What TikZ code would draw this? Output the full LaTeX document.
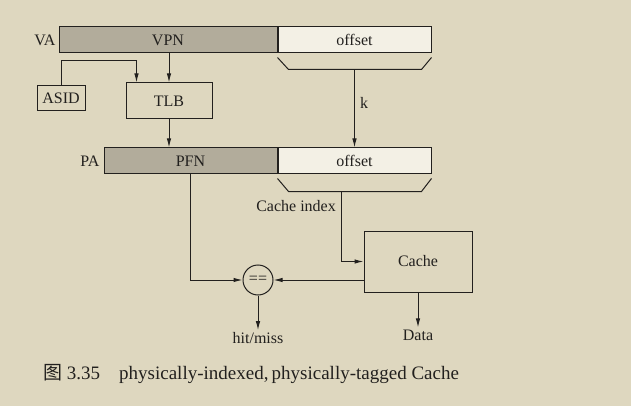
\documentclass[tikz,border=0pt]{standalone}
\usepackage{fontspec}
\setmainfont{Liberation Serif}
\newfontfamily\cjk{Noto Sans CJK SC}
\usepackage{xcolor}
\usepackage{tikz}
\usetikzlibrary{
    shapes,
    shapes.geometric,
    positioning,
    calc,
    arrows.meta
}
\definecolor{paper}{RGB}{222,215,191}
\definecolor{ink}{RGB}{34,32,30}
\definecolor{tagfill}{RGB}{178,172,155}
\definecolor{offfill}{RGB}{243,240,229}
\tikzset{
  basic/.style = {
      draw=ink,
      line width=1pt,
      font=\fontsize{16}{19}\selectfont,
      text=ink,
      rectangle,
      inner sep=0pt,
      align=center
  },
  field/.style = {
      basic,
      minimum height=26pt
  },
  tagfield/.style = {
      field,
      fill=tagfill
  },
  offfield/.style = {
      field,
      fill=offfill,
      minimum width=153pt
  },
  unit/.style = {
      basic,
      fill=paper
  },
  compare/.style = {
      basic,
      circle,
      minimum size=30pt
  },
  plain/.style = {
      font=\fontsize{16}{19}\selectfont,
      text=ink,
      inner sep=2pt
  },
  wire/.style = {
      draw=ink,
      line width=1pt
  },
  arr/.style = {
      wire,
      -{Latex[length=9pt,width=4.5pt]}
  }
}

\begin{document}
\begin{tikzpicture}[x=1pt,y=-1pt]
    \useasboundingbox[fill=paper] (0,0) rectangle (631,406);
    % Virtual address
    \node[tagfield, minimum width=218pt] (vpn) at (168,40) {VPN};
    \node[offfield, right=0pt of vpn] (voff) {offset};
    \node[plain, left=1pt of vpn] (va) {VA};
    % Translation
    \node[unit, minimum width=86pt, minimum height=36pt] (tlb) at (169,101) {TLB};
    \node[unit, minimum width=48pt, minimum height=25pt] (asid) at (61,98.5) {ASID};
    \coordinate (tlbin) at ($(tlb.north west)+(11,0)$);
    % Physical address
    \node[tagfield, minimum width=173pt] (pfn) at (190.5,161) {PFN};
    \node[offfield, right=0pt of pfn] (poff) {offset};
    \node[plain, left=2pt of pfn] (pa) {PA};
    % Cache side
    \node[unit, minimum width=108pt, minimum height=61pt] (cache) at (418,261.5) {Cache};
    \node[compare] (cmp) at (258,280) {==};
    \node[plain] (hit) at (258,338) {hit/miss};
    \node[plain] (data) at (418,335) {Data};
    % Brackets
    \draw[wire] ($(voff.south west)+(0,4)$) -- ++(11,12) -- ($(voff.south east)+(-10,16)$) -- ++(10,-12);
    \coordinate (vidx) at ($(voff.south)+(0,16)$);
    \draw[wire] ($(poff.south west)+(0,4)$) -- ++(11,13) -- ($(poff.south east)+(-10,17)$) -- ++(10,-13);
    \coordinate (pidx) at (341,191);
    \node[plain, anchor=west] (k) at (358,103) {k};
    \node[plain, anchor=east] (cidx) at (338,206) {Cache index};
    % Edges
    \draw[arr] (asid.north) -- ++(0,-25) -| (tlbin);
    \draw[arr] (vpn.south -| tlb.north) -- (tlb.north);
    \draw[arr] (tlb.south) -- (tlb.south |- pfn.north);
    \draw[arr] (vidx) -- (vidx |- poff.north);
    \draw[arr] (pidx) |- (cache.west);
    \draw[arr] (pfn.south) |- (cmp.west);
    \draw[arr] (cache.west |- cmp.east) -- (cmp.east);
    \draw[arr] (cmp.south) -- (hit.north);
    \draw[arr] (cache.south) -- (data.north);
    % Caption
    \node[plain, anchor=west, font=\fontsize{19}{23}\selectfont] (fig) at (41,374) {{\cjk 图} 3.35\hspace{1em}physically-indexed,\,physically-tagged Cache};
\end{tikzpicture}
\end{document}
